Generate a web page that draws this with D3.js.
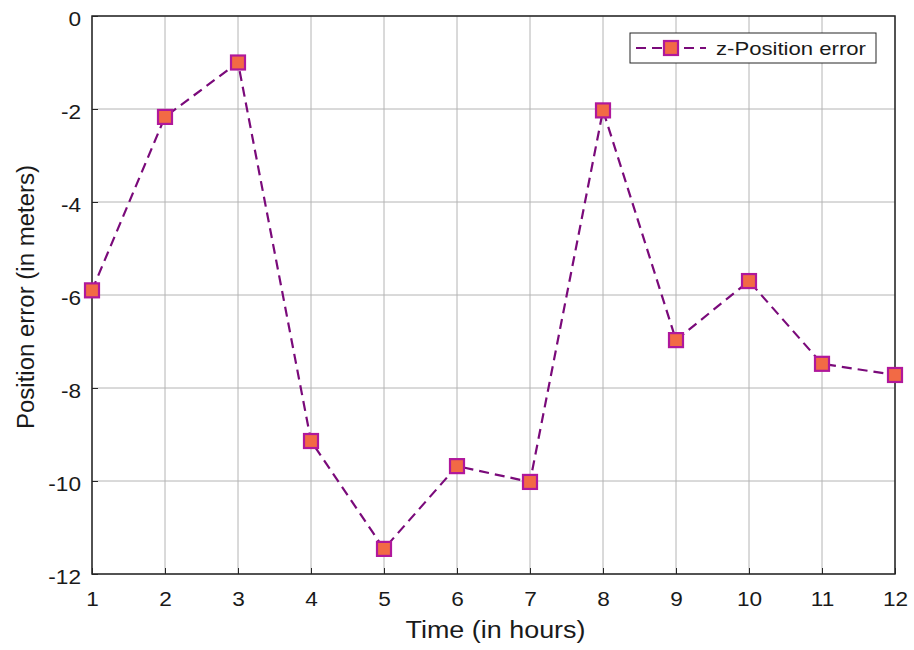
<!DOCTYPE html>
<html>
<head>
<meta charset="utf-8">
<script src="https://cdn.jsdelivr.net/npm/d3@7"></script>
<style>
  html, body { margin: 0; padding: 0; background: #fff; }
  svg { display: block; font-family: "Liberation Sans", Arial, sans-serif; }
</style>
</head>
<body>
<svg id="chart" width="914" height="650"></svg>
<script>
// Hourly z-position error
const hours = [1, 2, 3, 4, 5, 6, 7, 8, 9, 10, 11, 12];
const zError = [-5.9, -2.17, -1.0, -9.14, -11.46, -9.68, -10.02, -2.03, -6.97, -5.7, -7.48, -7.72];
const xTicks = [1, 2, 3, 4, 5, 6, 7, 8, 9, 10, 11, 12];
const yTicks = [0, -2, -4, -6, -8, -10, -12];
const seriesName = "z-Position error";

const svg = d3.select("#chart");
const m = { left: 92, right: 19, top: 16, bottom: 76 };
const W = 914, H = 650;
const x = d3.scaleLinear().domain([1, 12]).range([m.left, W - m.right]);
const y = d3.scaleLinear().domain([-12, 0]).range([H - m.bottom, m.top]);

// widen glyphs a little, keeping the anchor point in place
function stretch(sel, k) {
  sel.each(function () {
    const len = this.getComputedTextLength();
    d3.select(this).attr("textLength", len * k).attr("lengthAdjust", "spacingAndGlyphs");
  });
}

// grid
const grid = svg.append("g").attr("stroke", "#b4b4b4").attr("stroke-width", 1);
xTicks.forEach(t => grid.append("line")
  .attr("x1", x(t)).attr("x2", x(t)).attr("y1", y(0)).attr("y2", y(-12)));
yTicks.forEach(t => grid.append("line")
  .attr("x1", x(1)).attr("x2", x(12)).attr("y1", y(t)).attr("y2", y(t)));

// axes
const xAxis = svg.append("g")
  .attr("transform", `translate(0,${y(-12)})`)
  .call(d3.axisBottom(x).tickValues(xTicks).tickSize(-6).tickPadding(18).tickFormat(d3.format("d")));
const yAxis = svg.append("g")
  .attr("transform", `translate(${x(1)},0)`)
  .call(d3.axisLeft(y).tickValues(yTicks).tickSize(-6).tickPadding(11).tickFormat(d => d === 0 ? "0" : "-" + Math.abs(d)));
[xAxis, yAxis].forEach(a => {
  a.select(".domain").remove();
  a.selectAll(".tick line").attr("stroke", "#262626");
  a.selectAll(".tick text").attr("fill", "#1a1a1a").style("font-size", "20px")
    .style("font-family", "'Liberation Sans', Arial, sans-serif")
    .call(stretch, 1.13);
});
yAxis.selectAll(".tick text").attr("dy", "0.45em");

// frame
svg.append("rect")
  .attr("x", x(1)).attr("y", y(0))
  .attr("width", x(12) - x(1)).attr("height", y(-12) - y(0))
  .attr("fill", "none").attr("stroke", "#262626").attr("stroke-width", 1.5);

// series
const pts = hours.map((h, i) => [h, zError[i]]);
svg.append("path")
  .datum(pts)
  .attr("fill", "none")
  .attr("stroke", "#7a0a7a")
  .attr("stroke-width", 2.2)
  .attr("stroke-dasharray", "10,6")
  .attr("d", d3.line().x(d => x(d[0])).y(d => y(d[1])));

const s = 14;
svg.append("g").selectAll("rect").data(pts).join("rect")
  .attr("x", d => x(d[0]) - s / 2)
  .attr("y", d => y(d[1]) - s / 2)
  .attr("width", s).attr("height", s)
  .attr("fill", "#f26a45")
  .attr("stroke", "#b0189c")
  .attr("stroke-width", 2.2);

// axis titles
svg.append("text")
  .attr("x", (x(1) + x(12)) / 2 + 2).attr("y", 638)
  .attr("text-anchor", "middle")
  .style("font-size", "23px").attr("fill", "#1a1a1a")
  .text("Time (in hours)")
  .attr("textLength", 180).attr("lengthAdjust", "spacingAndGlyphs");
svg.append("text")
  .attr("transform", `translate(34,297) rotate(-90)`)
  .attr("text-anchor", "middle")
  .style("font-size", "23px").attr("fill", "#1a1a1a")
  .text("Position error (in meters)")
  .attr("textLength", 264).attr("lengthAdjust", "spacingAndGlyphs");

// legend
const lg = svg.append("g").attr("transform", "translate(630,33)");
lg.append("rect").attr("width", 246).attr("height", 30)
  .attr("fill", "#fff").attr("stroke", "#262626").attr("stroke-width", 1);
lg.append("line").attr("x1", 6).attr("x2", 76).attr("y1", 15).attr("y2", 15)
  .attr("stroke", "#7a0a7a").attr("stroke-width", 2.2).attr("stroke-dasharray", "10,6");
lg.append("rect").attr("x", 41 - s / 2).attr("y", 15 - s / 2).attr("width", s).attr("height", s)
  .attr("fill", "#f26a45").attr("stroke", "#b0189c").attr("stroke-width", 2.2);
lg.append("text").attr("x", 86).attr("y", 22)
  .style("font-size", "19px").attr("fill", "#1a1a1a")
  .text(seriesName)
  .attr("textLength", 150).attr("lengthAdjust", "spacingAndGlyphs");
</script>
</body>
</html>
